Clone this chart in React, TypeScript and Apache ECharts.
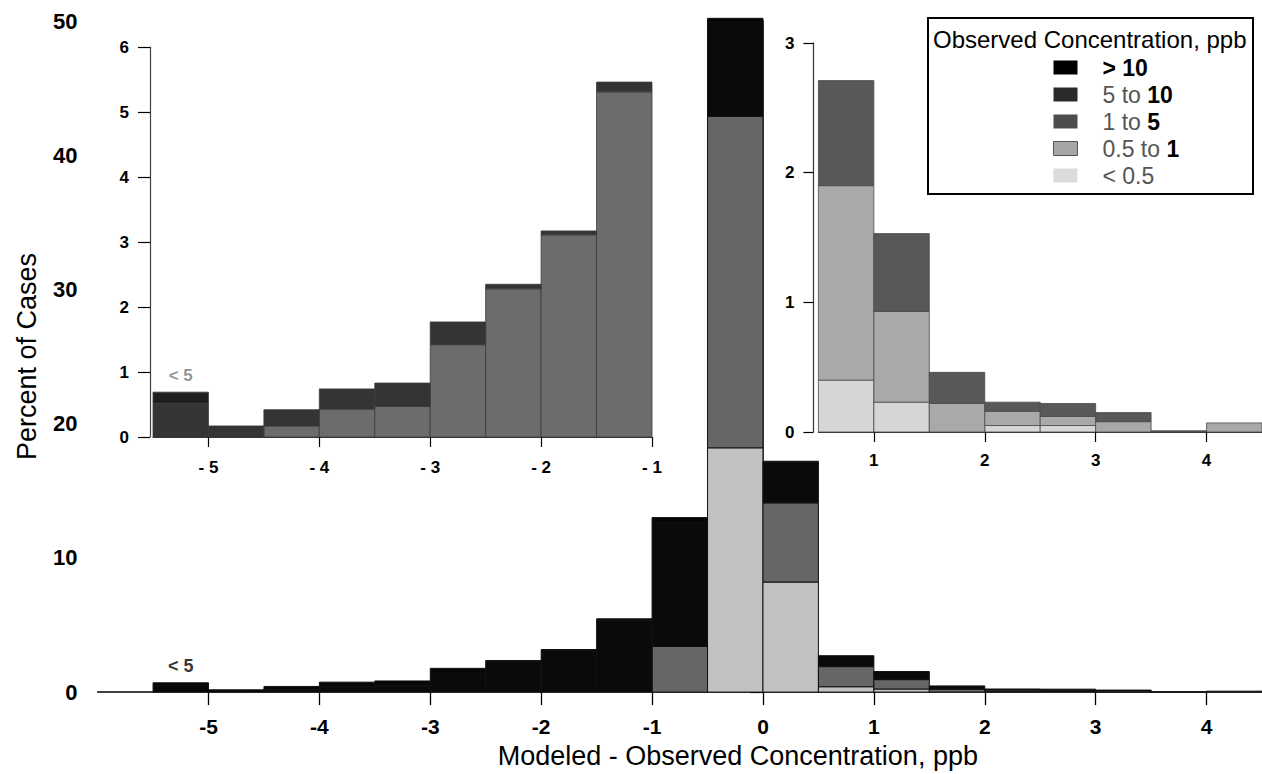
import React, { useEffect, useRef } from 'react';
import * as echarts from 'echarts';

// Histogram bins of (modeled - observed), 0.5 ppb wide; first bin lumps everything below -5
const binStarts = [-5.5, -5, -4.5, -4, -3.5, -3, -2.5, -2, -1.5, -1, -0.5, 0, 0.5, 1, 1.5, 2, 2.5, 3, 3.5, 4];
const binWidth = 0.5;

// Percent of cases per bin, split by observed concentration class
const below05 = [0, 0, 0, 0, 0, 0, 0, 0, 0, 0, 18.2, 8.2, 0.4, 0.23, 0, 0.05, 0.05, 0, 0, 0];
const from05to1 = [0, 0, 0, 0, 0, 0, 0, 0, 0, 3.4, 24.7, 5.9, 1.5, 0.7, 0.22, 0.11, 0.07, 0.08, 0, 0.07];
const from1to5 = [0, 0, 0.17, 0.43, 0.47, 1.42, 2.28, 3.11, 5.31, 9.2, 7.0, 3.0, 0.81, 0.6, 0.24, 0.07, 0.1, 0.07, 0.01, 0];
const from5to10 = [0.52, 0.17, 0.25, 0.31, 0.36, 0.35, 0.07, 0.06, 0.15, 0.4, 0.3, 0.1, 0, 0, 0, 0, 0, 0, 0, 0];
const above10 = [0.17, 0, 0, 0, 0, 0, 0, 0, 0, 0, 0, 0, 0, 0, 0, 0, 0, 0, 0, 0];

// Stacking order, bottom to top
const classNames = ['< 0.5', '0.5 to 1', '1 to 5', '5 to 10', '> 10'];
const classValues = [below05, from05to1, from1to5, from5to10, above10];
const legendOrder = ['> 10', '5 to 10', '1 to 5', '0.5 to 1', '< 0.5'];

const mainTicks = [-5, -4, -3, -2, -1, 0, 1, 2, 3, 4];
const leftInsetTicks = [-5, -4, -3, -2, -1];
const rightInsetTicks = [1, 2, 3, 4];
const lumpedLabel = '< 5';

const FONT = "'Liberation Sans', Arial, Helvetica, sans-serif";

const mainColors: Record<string, string> = {
  '< 0.5': '#c2c2c2', '0.5 to 1': '#666666', '1 to 5': '#0a0a0a', '5 to 10': '#060606', '> 10': '#000000',
};
const leftColors: Record<string, string> = {
  '< 0.5': '#d4d4d4', '0.5 to 1': '#a9a9a9', '1 to 5': '#6c6c6c', '5 to 10': '#343434', '> 10': '#1e1e1e',
};
const rightColors: Record<string, string> = {
  '< 0.5': '#d6d6d6', '0.5 to 1': '#a9a9a9', '1 to 5': '#585858', '5 to 10': '#333333', '> 10': '#111111',
};
const legendColors: Record<string, string> = {
  '> 10': '#000000', '5 to 10': '#2a2a2a', '1 to 5': '#4c4c4c', '0.5 to 1': '#a6a6a6', '< 0.5': '#dcdcdc',
};
const legendText: Record<string, string> = {
  '> 10': '{k|> 10}',
  '5 to 10': '{g|5 to} {k|10}',
  '1 to 5': '{g|1 to} {k|5}',
  '0.5 to 1': '{g|0.5 to} {k|1}',
  '< 0.5': '{g|< 0.5}',
};

// Stacked segments [start, end, base, top] for one class, restricted to a bin range
function segments(classIdx: number, lo: number, hi: number) {
  const rows: number[][] = [];
  binStarts.forEach((x0, i) => {
    const x1 = x0 + binWidth;
    if (x0 < lo - 1e-9 || x1 > hi + 1e-9) return;
    const v = classValues[classIdx][i];
    if (v <= 0) return;
    let base = 0;
    for (let c = 0; c < classIdx; c++) base += classValues[c][i];
    rows.push([x0, x1, base, base + v]);
  });
  return rows;
}

function binTotal(i: number) {
  return classValues.reduce((s, arr) => s + arr[i], 0);
}

const histRender = (fill: string, stroke: string, lineWidth: number) => (_params: any, api: any) => {
  const a = api.coord([api.value(0), api.value(3)]);
  const b = api.coord([api.value(1), api.value(2)]);
  return {
    type: 'rect',
    shape: { x: a[0], y: a[1], width: b[0] - a[0], height: b[1] - a[1] },
    style: { fill, stroke, lineWidth },
  };
};

function histSeries(gridIdx: number, lo: number, hi: number, colors: Record<string, string>, stroke: string, lw: number) {
  return classNames.map((name, c) => ({
    type: 'custom',
    name,
    xAxisIndex: gridIdx,
    yAxisIndex: gridIdx,
    itemStyle: { color: colors[name] },
    encode: { x: [0, 1], y: [2, 3] },
    data: segments(c, lo, hi),
    renderItem: histRender(colors[name], stroke, lw),
    silent: true,
  }));
}

const tickLabel = (size: number) => ({ fontFamily: FONT, fontWeight: 'bold' as const, fontSize: size, color: '#000' });

export default function App() {
  const ref = useRef<HTMLDivElement>(null);

  useEffect(() => {
    if (!ref.current) return;
    const chart = echarts.init(ref.current, undefined, { renderer: 'svg' });
    const lumpedIdx = 0;
    const lumpedPoint = [binStarts[lumpedIdx] + binWidth / 2, binTotal(lumpedIdx)];

    chart.setOption({
      animation: false,
      backgroundColor: '#ffffff',
      grid: [
        { left: 97.6, top: 21, width: 1164.4, height: 676.5 },
        { left: 153, top: 47, width: 499, height: 390 },
        { left: 818.4, top: 43, width: 443.6, height: 389 },
      ],
      xAxis: [
        {
          type: 'value', gridIndex: 0, min: -6, max: 4.5,
          splitLine: { show: false },
          axisLine: { lineStyle: { color: '#000', width: 1.5 } },
          axisTick: { customValues: mainTicks, length: 13, lineStyle: { color: '#000', width: 1.3 } },
          axisLabel: { customValues: mainTicks, margin: 24, ...tickLabel(21), formatter: (v: number) => String(v) },
          name: 'Modeled - Observed Concentration, ppb',
          nameLocation: 'middle',
          nameGap: 48,
          nameTextStyle: { fontFamily: FONT, fontSize: 27, color: '#000', padding: [0, 0, 0, 116] },
        },
        {
          type: 'value', gridIndex: 1, min: -5.5, max: -1,
          splitLine: { show: false },
          axisLine: { lineStyle: { color: '#333', width: 1.2 } },
          axisTick: { customValues: leftInsetTicks, length: 10, lineStyle: { color: '#000', width: 1.2 } },
          axisLabel: { customValues: leftInsetTicks, margin: 22, ...tickLabel(17), formatter: (v: number) => '- ' + Math.abs(v) },
        },
        {
          type: 'value', gridIndex: 2, min: 0.5, max: 4.5,
          splitLine: { show: false },
          axisLine: { lineStyle: { color: '#333', width: 1.2 } },
          axisTick: { customValues: rightInsetTicks, length: 10, lineStyle: { color: '#000', width: 1.2 } },
          axisLabel: { customValues: rightInsetTicks, margin: 20, ...tickLabel(17), formatter: (v: number) => String(v) },
        },
      ],
      yAxis: [
        {
          type: 'value', gridIndex: 0, min: 0, max: 50, interval: 10,
          splitLine: { show: false },
          axisLine: { show: true, lineStyle: { color: '#000', width: 1.5 } },
          axisTick: { show: true, length: 13, lineStyle: { color: '#000', width: 1.2 } },
          axisLabel: { margin: 20, ...tickLabel(22) },
          name: 'Percent of Cases',
          nameLocation: 'middle',
          nameGap: 57,
          nameTextStyle: { fontFamily: FONT, fontSize: 27, color: '#000' },
        },
        {
          type: 'value', gridIndex: 1, min: 0, max: 6, interval: 1, offset: 3,
          splitLine: { show: false },
          axisLine: { show: true, lineStyle: { color: '#444', width: 1.2 } },
          axisTick: { show: true, length: 12, lineStyle: { color: '#000', width: 1.2 } },
          axisLabel: { margin: 21, ...tickLabel(17) },
        },
        {
          type: 'value', gridIndex: 2, min: 0, max: 3, interval: 1, offset: 5,
          splitLine: { show: false },
          axisLine: { show: true, lineStyle: { color: '#333', width: 1.2 } },
          axisTick: { show: true, length: 10, lineStyle: { color: '#000', width: 1.2 } },
          axisLabel: { margin: 19, ...tickLabel(17) },
        },
      ],
      legend: {
        orient: 'vertical',
        left: 1053,
        top: 56,
        padding: 0,
        icon: 'rect',
        itemWidth: 24,
        itemHeight: 14,
        itemGap: 4,
        selectedMode: false,
        z: 6,
        data: legendOrder.map((name) => ({
          name,
          itemStyle: { color: legendColors[name], borderColor: '#555', borderWidth: name === '0.5 to 1' ? 1 : 0 },
        })),
        formatter: (name: string) => legendText[name],
        textStyle: {
          fontFamily: FONT,
          fontSize: 23,
          lineHeight: 20,
          padding: [0, 0, 0, 20],
          rich: {
            k: { fontFamily: FONT, fontSize: 23, fontWeight: 'bold', color: '#000', lineHeight: 20 },
            g: { fontFamily: FONT, fontSize: 23, color: '#555', lineHeight: 20 },
          },
        },
      },
      graphic: [
        {
          type: 'rect',
          z: 5,
          shape: { x: 928, y: 18, width: 325, height: 176 },
          style: { fill: '#ffffff', stroke: '#000', lineWidth: 2 },
        },
        {
          type: 'text',
          z: 7,
          left: 933,
          top: 27,
          style: { text: 'Observed Concentration, ppb', fontFamily: FONT, fontSize: 24, fill: '#000' },
        },
      ],
      series: [
        ...histSeries(0, -5.5, 4.5, mainColors, '#111', 1),
        ...histSeries(1, -5.5, -1, leftColors, '#3a3a3a', 0.8),
        ...histSeries(2, 0.5, 4.5, rightColors, '#4a4a4a', 0.8),
        {
          type: 'scatter', xAxisIndex: 0, yAxisIndex: 0, symbolSize: 0, silent: true,
          data: [lumpedPoint],
          label: { show: true, position: 'top', distance: 8, formatter: lumpedLabel, ...tickLabel(18) },
        },
        {
          type: 'scatter', xAxisIndex: 1, yAxisIndex: 1, symbolSize: 0, silent: true,
          data: [lumpedPoint],
          label: { show: true, position: 'top', distance: 8, formatter: lumpedLabel, ...tickLabel(17), color: '#777' },
        },
      ],
    });

    return () => chart.dispose();
  }, []);

  return <div ref={ref} style={{ position: 'absolute', left: 0, top: 0, width: 1262, height: 774 }} />;
}
